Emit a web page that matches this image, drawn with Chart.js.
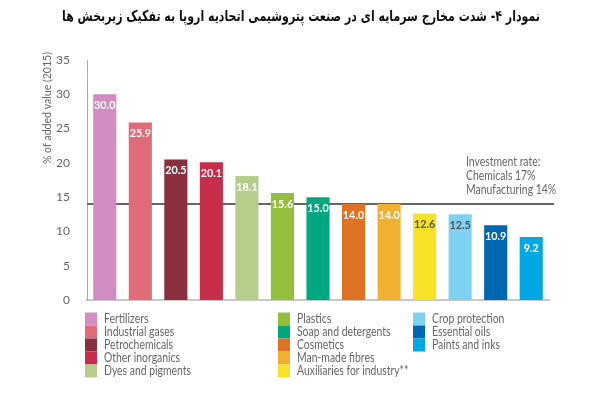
<!DOCTYPE html>
<html>
<head>
<meta charset="utf-8">
<script src="https://cdn.jsdelivr.net/npm/chart.js@4/dist/chart.umd.min.js"></script>
<style>
  html, body { margin: 0; padding: 0; background: #fff; }
  #wrap { width: 600px; height: 397px; position: relative; }
</style>
</head>
<body>
<div id="wrap"><canvas id="myChart"></canvas></div>
<script>
// data
const titleText = 'نمودار ۴- شدت مخارج سرمایه ای در صنعت پتروشیمی اتحادیه اروپا به تفکیک زیربخش ها';
const sectors = ['Fertilizers', 'Industrial gases', 'Petrochemicals', 'Other inorganics', 'Dyes and pigments',
  'Plastics', 'Soap and detergents', 'Cosmetics', 'Man-made fibres', 'Auxiliaries for industry**',
  'Crop protection', 'Essential oils', 'Paints and inks'];
const values = [30.0, 25.9, 20.5, 20.1, 18.1, 15.6, 15.0, 14.0, 14.0, 12.6, 12.5, 10.9, 9.2];
const colors = ['#D18DC1', '#E16B78', '#88303D', '#C72E49', '#B6CD8B',
  '#92BF3C', '#00A77F', '#E07226', '#F0B12F', '#F8E227',
  '#7FD1F2', '#0068B1', '#00A9E3'];
const darkLabels = [9, 10]; // labels drawn dark on light bars
const yTicks = [0, 5, 10, 15, 20, 25, 30, 35];
const manufacturingRate = 14;
const noteLines = ['Investment rate:', 'Chemicals 17%', 'Manufacturing 14%'];
const legendCols = [[0, 1, 2, 3, 4], [5, 6, 7, 8, 9], [10, 11, 12]];

const grey = '#666';

// narrow text a bit, the original font is a condensed one
function narrowText(ctx, t, x, y, k) {
  ctx.fillText(t, x, y, ctx.measureText(t).width * k);
}

const extras = {
  id: 'extras',
  beforeDatasetsDraw(chart) {
    const ctx = chart.ctx;
    const ca = chart.chartArea;
    const ly = chart.scales.y.getPixelForValue(manufacturingRate);
    ctx.save();
    ctx.strokeStyle = '#666';
    ctx.lineWidth = 2;
    ctx.beginPath();
    ctx.moveTo(ca.left, ly);
    ctx.lineTo(ca.right + 5, ly);
    ctx.stroke();

    ctx.fillStyle = grey;
    ctx.font = '13px Lato';
    ctx.textAlign = 'left';
    ctx.textBaseline = 'middle';
    noteLines.forEach((t, i) => narrowText(ctx, t, 466, ly - 42 + i * 14, 0.8));
    ctx.restore();
  },
  afterDatasetsDraw(chart) {
    const ctx = chart.ctx;
    const meta = chart.getDatasetMeta(0);
    ctx.save();
    ctx.font = 'bold 12px Lato';
    ctx.textAlign = 'center';
    ctx.textBaseline = 'middle';
    meta.data.forEach((bar, i) => {
      ctx.fillStyle = darkLabels.includes(i) ? '#555' : '#fff';
      narrowText(ctx, values[i].toFixed(1), bar.x, bar.y + 11, 0.9);
    });
    ctx.restore();
  },
  afterDraw(chart) {
    const ctx = chart.ctx;
    // title
    ctx.save();
    ctx.direction = 'rtl';
    ctx.font = 'bold 15px "DejaVu Sans"';
    ctx.fillStyle = '#111';
    ctx.textAlign = 'center';
    ctx.textBaseline = 'middle';
    ctx.fillText(titleText, 301, 17, 478);
    ctx.restore();

    // y title
    ctx.save();
    ctx.translate(47, 108);
    ctx.rotate(-Math.PI / 2);
    ctx.font = '12px Lato';
    ctx.fillStyle = grey;
    ctx.textAlign = 'center';
    ctx.textBaseline = 'middle';
    narrowText(ctx, '% of added value (2015)', 0, 0, 0.88);
    ctx.restore();

    // legend
    const colX = [85, 278, 413];
    ctx.save();
    ctx.font = '13px Lato';
    ctx.textBaseline = 'middle';
    ctx.textAlign = 'left';
    legendCols.forEach((col, c) => {
      col.forEach((idx, r) => {
        const cy = 319 + r * 13;
        ctx.fillStyle = colors[idx];
        ctx.fillRect(colX[c], cy - 6.5, 12, 13);
        ctx.fillStyle = grey;
        narrowText(ctx, sectors[idx], colX[c] + 19, cy, 0.8);
      });
    });
    ctx.restore();
  }
};

const ctx = document.getElementById('myChart');
new Chart(ctx, {
  type: 'bar',
  data: {
    labels: sectors,
    datasets: [{
      data: values,
      backgroundColor: colors,
      barPercentage: 0.65,
      categoryPercentage: 1
    }]
  },
  options: {
    responsive: true,
    maintainAspectRatio: false,
    animation: false,
    layout: { padding: { top: 60, right: 51, bottom: 89, left: 0 } },
    plugins: {
      legend: { display: false },
      tooltip: { enabled: false }
    },
    scales: {
      x: {
        grid: { display: false },
        ticks: { display: false },
        border: { display: true, color: '#c8c8c8', width: 2 }
      },
      y: {
        min: 0,
        max: 35,
        afterFit(scale) { scale.width = 87; },
        afterBuildTicks(scale) { scale.ticks = yTicks.map(v => ({ value: v })); },
        grid: { display: false },
        border: { display: true, color: '#aaa', width: 1 },
        ticks: { color: grey, font: { family: 'Lato', size: 12 }, padding: 9 }
      }
    }
  },
  plugins: [extras]
});
</script>
</body>
</html>
